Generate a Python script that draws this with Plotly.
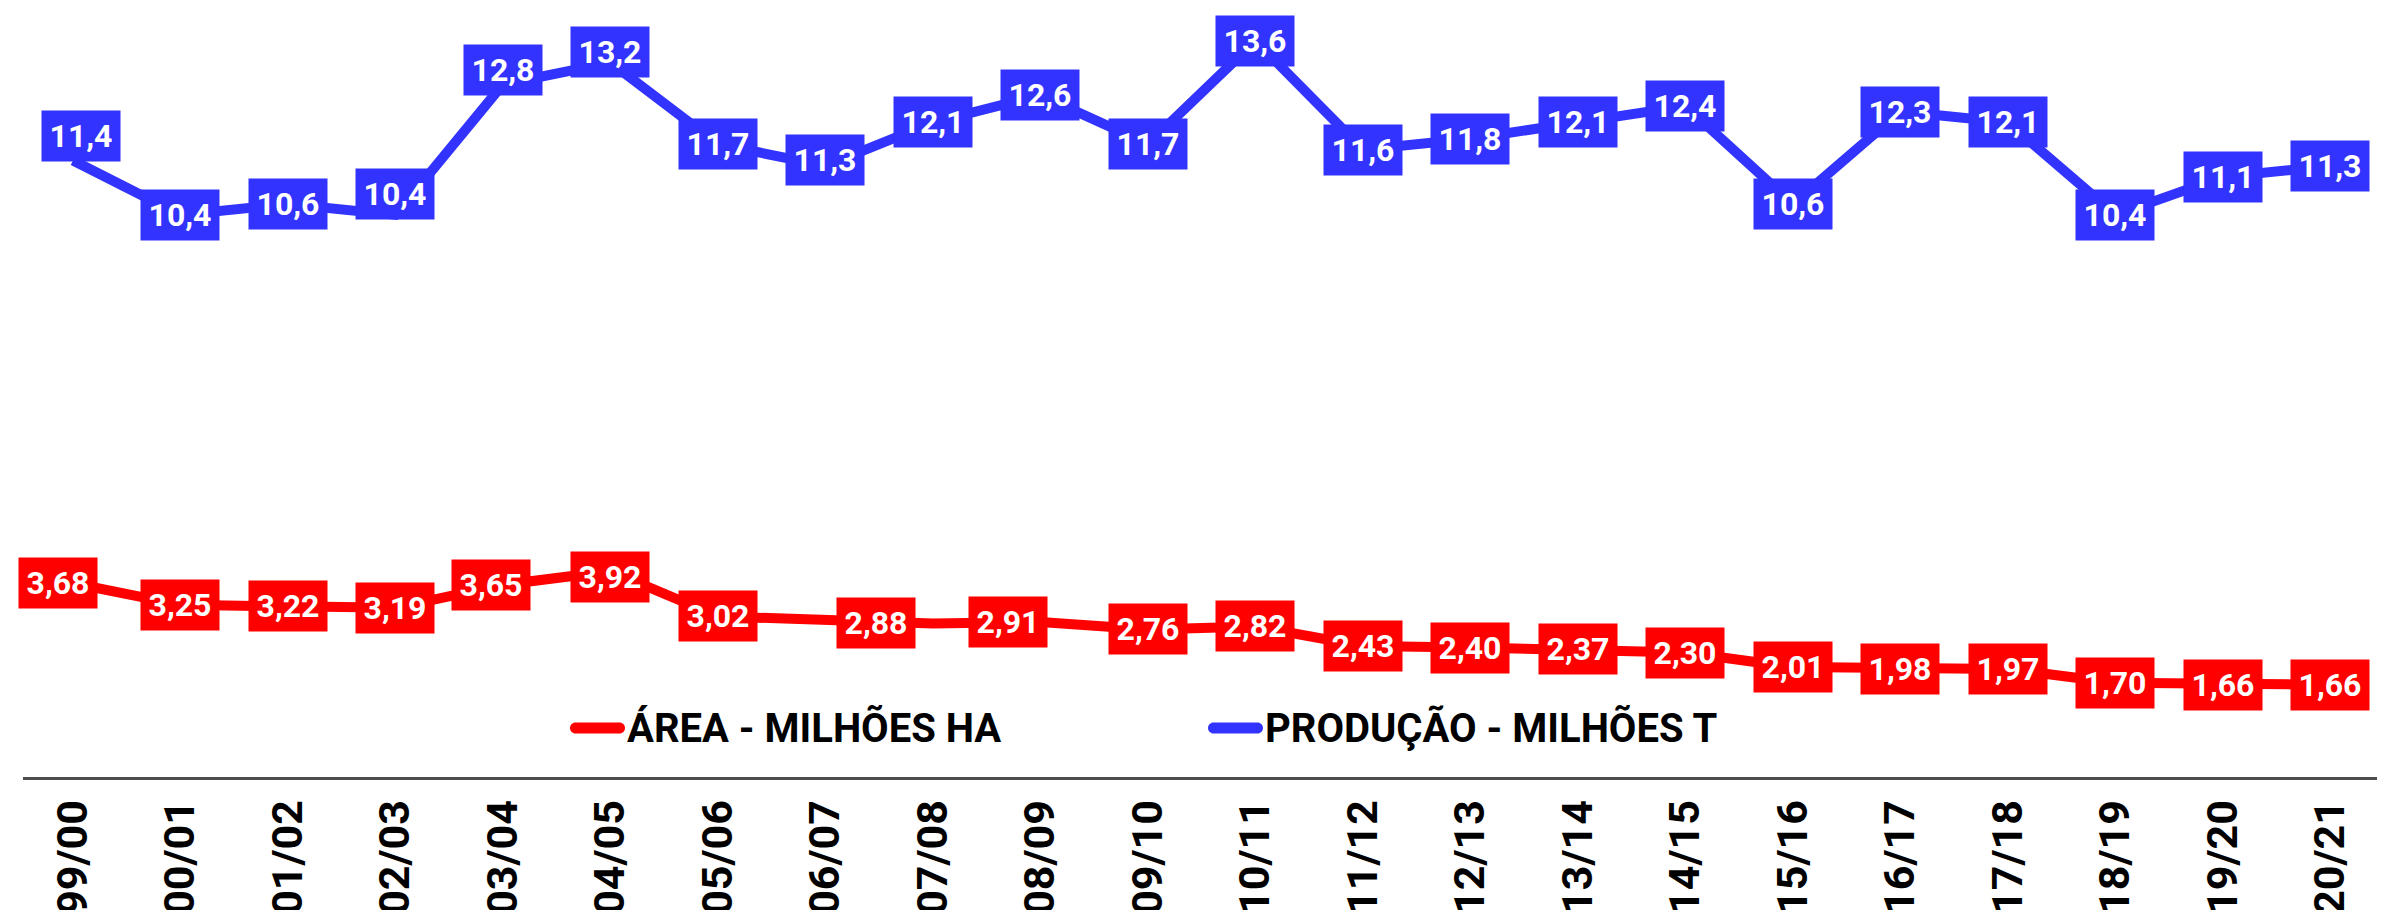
import plotly.graph_objects as go

categories = ["99/00", "00/01", "01/02", "02/03", "03/04", "04/05", "05/06", "06/07",
              "07/08", "08/09", "09/10", "10/11", "11/12", "12/13", "13/14", "14/15",
              "15/16", "16/17", "17/18", "18/19", "19/20", "20/21"]

area = [3.68, 3.25, 3.22, 3.19, 3.65, 3.92, 3.02, None, 2.88, 2.91, 2.76,
        2.82, 2.43, 2.40, 2.37, 2.30, 2.01, 1.98, 1.97, 1.70, 1.66, 1.66]

producao = [11.4, 10.4, 10.6, 10.4, 12.8, 13.2, 11.7, 11.3, 12.1, 12.6, 11.7,
            13.6, 11.6, 11.8, 12.1, 12.4, 10.6, 12.3, 12.1, 10.4, 11.1, 11.3]

area_name = "ÁREA - MILHÕES HA"
prod_name = "PRODUÇÃO - MILHÕES T"

RED = "#FF0000"
BLUE = "#3333FF"
W, H = 2385, 910
ML, MR, MT, MB = 15, 2, 0, 141

# label nudges (px): index -> (xshift, yshift)
red_nudge = {0: (-15, 0), 4: (-12, 0), 5: (0, -6), 8: (-57, 0), 9: (-32, 0)}
blue_nudge = {0: (8, 24), 3: (0, 21), 4: (0, 14), 5: (0, 11), 7: (0, 6)}

fig = go.Figure()
fig.add_trace(go.Scatter(x=categories, y=area, mode="lines", name=area_name,
                         line=dict(color=RED, width=10), connectgaps=True,
                         yaxis="y", showlegend=False, hoverinfo="skip"))
fig.add_trace(go.Scatter(x=categories, y=producao, mode="lines", name=prod_name,
                         line=dict(color=BLUE, width=10),
                         yaxis="y2", showlegend=False, hoverinfo="skip"))

def fmt(v, nd):
    return f"{v:.{nd}f}".replace(".", ",")

LABEL_FONT = dict(family="Roboto", size=32, color="white", weight="bold")

ann = []
for i, (c, v) in enumerate(zip(categories, area)):
    if v is None:
        continue
    dx, dy = red_nudge.get(i, (0, 0))
    ann.append(dict(x=c, y=v, xref="x", yref="y", text=fmt(v, 2), showarrow=False,
                    bgcolor=RED, font=LABEL_FONT,
                    width=66, height=38, borderpad=6, xshift=dx, yshift=dy))
for i, (c, v) in enumerate(zip(categories, producao)):
    dx, dy = blue_nudge.get(i, (0, 0))
    ann.append(dict(x=c, y=v, xref="x", yref="y2", text=fmt(v, 1), showarrow=False,
                    bgcolor=BLUE, font=LABEL_FONT,
                    width=66, height=38, borderpad=6, xshift=dx, yshift=dy))

# custom legend
pw = W - ML - MR
ph = H - MT - MB
def px_x(p):
    return (p - ML) / pw
def px_y(p):
    return 1 - (p - MT) / ph

legend_items = [(area_name, RED, 562), (prod_name, BLUE, 1200)]
shapes = []
leg_y = 720
for name, col, x0 in legend_items:
    r = 5.5
    L = 55
    path = (f"M{r},{-r} L{L - r},{-r} C{L - r + 3.04},{-r} {L},{-r + 2.46} {L},0 "
            f"C{L},{r - 2.46} {L - r + 3.04},{r} {L - r},{r} L{r},{r} "
            f"C{r - 3.04},{r} 0,{r - 2.46} 0,0 C0,{-r + 2.46} {r - 3.04},{-r} {r},{-r} Z")
    shapes.append(dict(type="path", xref="paper", yref="paper", xsizemode="pixel",
                       ysizemode="pixel", xanchor=px_x(x0), yanchor=px_y(leg_y),
                       path=path, fillcolor=col, line=dict(width=0)))
    ann.append(dict(x=px_x(x0 + L), y=px_y(leg_y), xref="paper", yref="paper",
                    xanchor="left", yanchor="middle", text=name, showarrow=False,
                    font=dict(family="Roboto", size=40, color="#000000", weight="bold")))

fig.update_layout(
    width=W, height=H,
    margin=dict(l=ML, r=MR, t=MT, b=MB, pad=0),
    paper_bgcolor="white", plot_bgcolor="white",
    xaxis=dict(type="category", range=[-0.465, 21.563], showgrid=False, zeroline=False,
               showline=True, linecolor="#4d4d4d", linewidth=3, ticks="",
               tickangle=-90, ticklabelstandoff=3, automargin=False,
               tickfont=dict(family="Roboto", size=43, color="#000000", weight="bold")),
    yaxis=dict(range=[-0.1795, 15.139], visible=False, fixedrange=True),
    yaxis2=dict(range=[0.067, 14.203], visible=False, overlaying="y", fixedrange=True),
    annotations=ann, shapes=shapes, showlegend=False,
)

fig.write_html("out.html")
